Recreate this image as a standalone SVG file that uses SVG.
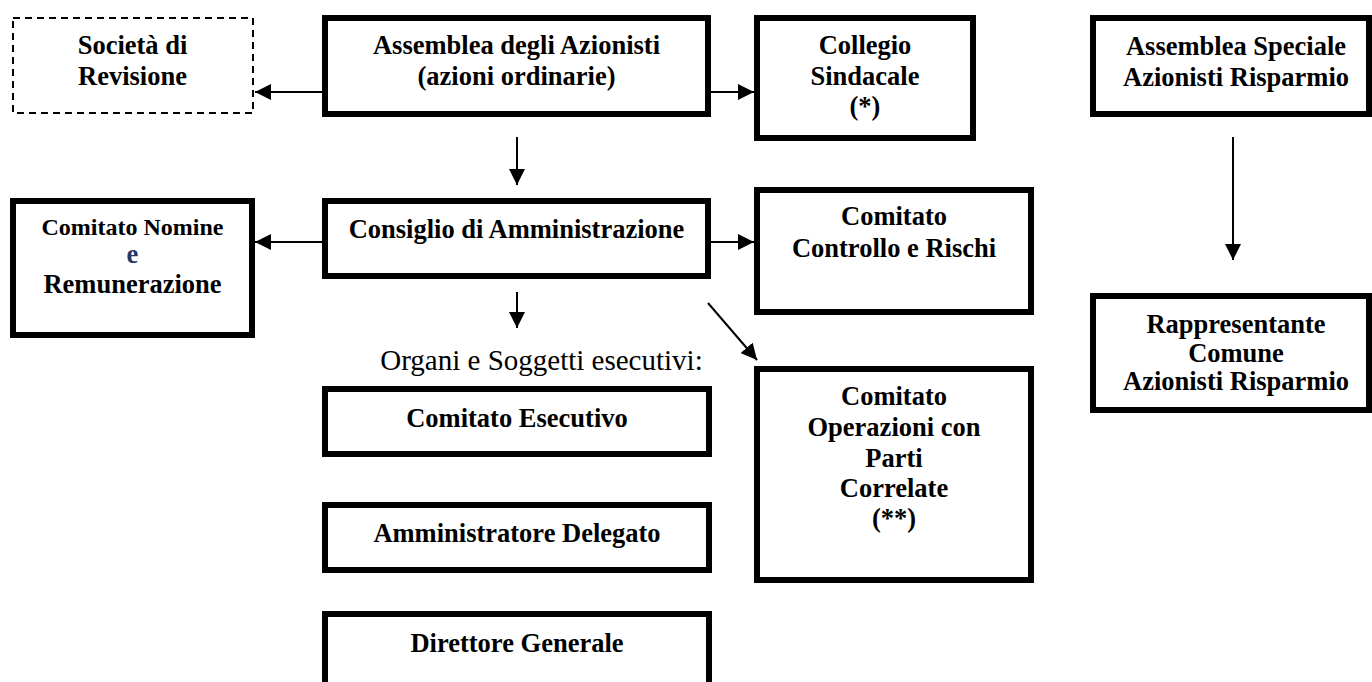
<svg xmlns="http://www.w3.org/2000/svg" width="1372" height="682" viewBox="0 0 1372 682">
<style>
.box{fill:#fff;stroke:#000;stroke-width:6}
.dash{fill:#fff;stroke:#000;stroke-width:2;stroke-dasharray:7 5}
.t{font-family:"Liberation Serif","Times New Roman",serif;font-weight:bold;font-size:26.5px;fill:#000;text-anchor:middle}
.r{font-family:"Liberation Serif","Times New Roman",serif;font-size:29px;fill:#000;text-anchor:middle}
.c{fill:none;stroke:#000;stroke-width:2}
</style>
<defs>
<marker id="ah" markerUnits="userSpaceOnUse" markerWidth="16" markerHeight="16" refX="16" refY="8" orient="auto">
<path d="M0,0 L16,8 L0,16 z" fill="#000"/>
</marker>
</defs>
<rect width="1372" height="682" fill="#fff"/>
<g id="connectors">
<line class="c" x1="322" y1="92" x2="255" y2="92" marker-end="url(#ah)"/>
<line class="c" x1="711" y1="92" x2="754" y2="92" marker-end="url(#ah)"/>
<line class="c" x1="517" y1="137" x2="517" y2="185" marker-end="url(#ah)"/>
<line class="c" x1="322" y1="242" x2="255" y2="242" marker-end="url(#ah)"/>
<line class="c" x1="711" y1="242" x2="754" y2="242" marker-end="url(#ah)"/>
<line class="c" x1="517" y1="292" x2="517" y2="328" marker-end="url(#ah)"/>
<line class="c" x1="708" y1="303" x2="757" y2="360" marker-end="url(#ah)"/>
<line class="c" x1="1233" y1="137" x2="1233" y2="260" marker-end="url(#ah)"/>
</g>
<g id="societa">
<rect class="dash" x="13" y="18" width="240" height="95"/>
<text class="t" x="132.5" y="54">Società di</text>
<text class="t" x="132.5" y="85">Revisione</text>
</g>
<g id="assemblea">
<rect class="box" x="325" y="18" width="383" height="96"/>
<text class="t" x="516.5" y="54">Assemblea degli Azionisti</text>
<text class="t" x="516.5" y="85">(azioni ordinarie)</text>
</g>
<g id="collegio">
<rect class="box" x="757" y="18" width="216" height="120"/>
<text class="t" x="865" y="54">Collegio</text>
<text class="t" x="865" y="85">Sindacale</text>
<text class="t" x="865" y="115">(*)</text>
</g>
<g id="assemblea-speciale">
<rect class="box" x="1093" y="18" width="276" height="96"/>
<text class="t" x="1236" y="55">Assemblea Speciale</text>
<text class="t" x="1236" y="86">Azionisti Risparmio</text>
</g>
<g id="consiglio">
<rect class="box" x="325" y="201" width="383" height="75"/>
<text class="t" x="516.5" y="238">Consiglio di Amministrazione</text>
</g>
<g id="nomine">
<rect class="box" x="13" y="201" width="239" height="134"/>
<text class="t" x="132.5" y="235" style="font-size:24px">Comitato Nomine</text>
<text class="t" x="132.5" y="263" style="fill:#1F3864">e</text>
<text class="t" x="132.5" y="293">Remunerazione</text>
</g>
<g id="controllo">
<rect class="box" x="757" y="190" width="274" height="122"/>
<text class="t" x="894" y="225">Comitato</text>
<text class="t" x="894" y="257">Controllo e Rischi</text>
</g>
<g id="rappresentante">
<rect class="box" x="1093" y="296" width="276" height="114"/>
<text class="t" x="1236" y="333">Rappresentante</text>
<text class="t" x="1236" y="362">Comune</text>
<text class="t" x="1236" y="390">Azionisti Risparmio</text>
</g>
<g id="organi-label">
<text class="r" x="541.5" y="370">Organi e Soggetti esecutivi:</text>
</g>
<g id="comitato-esecutivo">
<rect class="box" x="325" y="389" width="384" height="65"/>
<text class="t" x="517" y="427">Comitato Esecutivo</text>
</g>
<g id="amministratore-delegato">
<rect class="box" x="325" y="505" width="384" height="65"/>
<text class="t" x="517" y="542">Amministratore Delegato</text>
</g>
<g id="direttore-generale">
<rect class="box" x="325" y="614" width="384" height="90"/>
<text class="t" x="517" y="652">Direttore Generale</text>
</g>
<g id="operazioni">
<rect class="box" x="757" y="369" width="274" height="211"/>
<text class="t" x="894" y="405">Comitato</text>
<text class="t" x="894" y="436">Operazioni con</text>
<text class="t" x="894" y="467">Parti</text>
<text class="t" x="894" y="497">Correlate</text>
<text class="t" x="894" y="527">(**)</text>
</g>
</svg>
